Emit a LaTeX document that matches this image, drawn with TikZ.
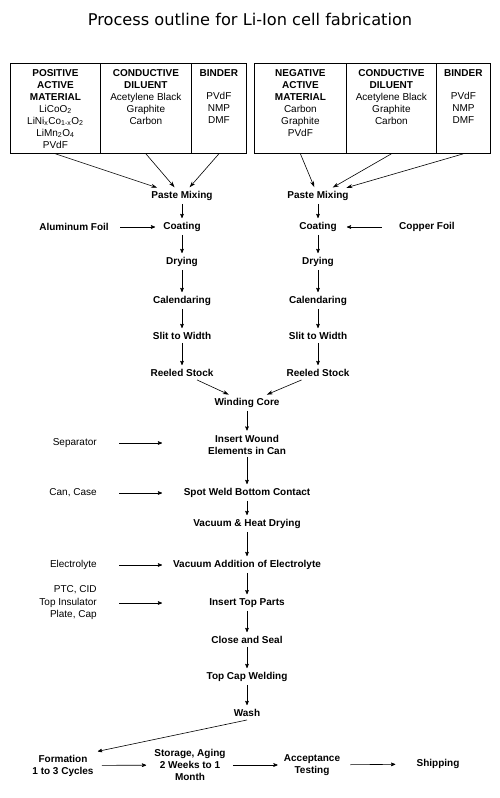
\documentclass[tikz,border=0pt]{standalone}
\usepackage{fontspec}
\setmainfont{Liberation Sans}
\newfontfamily\titlefont{DejaVu Sans}
\usepackage{tikz}
\usetikzlibrary{arrows,arrows.meta,positioning}

\begin{document}
\begin{tikzpicture}[x=1pt,y=-1pt,-,>=stealth',shorten >=1pt,line width=0.6pt,
  procstep/.style={font=\fontsize{10}{12}\selectfont\bfseries, align=center, inner sep=3pt},
  feed/.style={font=\fontsize{10}{12.5}\selectfont, align=right, anchor=east, inner sep=3pt},
  colbox/.style={draw, line width=0.8pt, minimum height=90pt, inner sep=0pt, anchor=north west},
  coltext/.style={font=\fontsize{10}{12}\selectfont, align=center, inner sep=0pt},
  bigtip/.style={-{Stealth[length=6pt,width=4pt]}}]

\useasboundingbox (0,0) rectangle (500,798);

\node[font=\titlefont\fontsize{16.2}{18}\selectfont] (title) at (250,19) {Process outline for Li-Ion cell fabrication};

% material boxes
\node[colbox, minimum width=90pt] (PA) at (10,63)  {};
\node[colbox, minimum width=91pt] (PC) at (100,63) {};
\node[colbox, minimum width=55pt] (PB) at (191,63) {};
\node[colbox, minimum width=92pt] (NA) at (254,63) {};
\node[colbox, minimum width=90pt] (NC) at (346,63) {};
\node[colbox, minimum width=54pt] (NB) at (436,63) {};

\node[coltext, below=6pt of PA.north] (PAtxt) {\textbf{POSITIVE}\\\textbf{ACTIVE}\\\textbf{MATERIAL}\\LiCoO\textsubscript{2}\\LiNi\textsubscript{x}Co\textsubscript{1-x}O\textsubscript{2}\\LiMn\textsubscript{2}O\textsubscript{4}\\PVdF};
\node[coltext, below=6pt of PC.north] (PCtxt) {\textbf{CONDUCTIVE}\\\textbf{DILUENT}\\Acetylene Black\\Graphite\\Carbon};
\node[coltext, below=6pt of PB.north] (PBtxt) {\textbf{BINDER}\\[11pt]PVdF\\NMP\\DMF};
\node[coltext, below=6pt of NA.north] (NAtxt) {\textbf{NEGATIVE}\\\textbf{ACTIVE}\\\textbf{MATERIAL}\\Carbon\\Graphite\\PVdF};
\node[coltext, below=6pt of NC.north] (NCtxt) {\textbf{CONDUCTIVE}\\\textbf{DILUENT}\\Acetylene Black\\Graphite\\Carbon};
\node[coltext, below=6pt of NB.north] (NBtxt) {\textbf{BINDER}\\[11pt]PVdF\\NMP\\DMF};

% electrode lines
\node[procstep] (PML)    at (182,196) {Paste Mixing};
\node[procstep] (PMR)    at (318,196) {Paste Mixing};
\node[procstep] (AlFoil) at (74,227)  {Aluminum Foil};
\node[procstep] (CoatL)  at (182,227) {Coating};
\node[procstep] (CoatR)  at (318,227) {Coating};
\node[procstep] (CuFoil) at (427,227) {Copper Foil};
\node[procstep] (DryL)   at (182,262) {Drying};
\node[procstep] (DryR)   at (318,262) {Drying};
\node[procstep] (CalL)   at (182,301) {Calendaring};
\node[procstep] (CalR)   at (318,301) {Calendaring};
\node[procstep] (SlitL)  at (182,336) {Slit to Width};
\node[procstep] (SlitR)  at (318,336) {Slit to Width};
\node[procstep] (ReelL)  at (182,373) {Reeled Stock};
\node[procstep] (ReelR)  at (318,373) {Reeled Stock};

% cell assembly
\node[procstep] (Wind)     at (247,403)   {Winding Core};
\node[procstep] (Insert)   at (247,444.5) {Insert Wound\\Elements in Can};
\node[procstep] (Spot)     at (247,493)   {Spot Weld Bottom Contact};
\node[procstep] (VacDry)   at (247,524)   {Vacuum \& Heat Drying};
\node[procstep] (VacEl)    at (247,565)   {Vacuum Addition of Electrolyte};
\node[procstep] (TopParts) at (247,603)   {Insert Top Parts};
\node[procstep] (Close)    at (247,640)   {Close and Seal};
\node[procstep] (TopCap)   at (247,677)   {Top Cap Welding};
\node[procstep] (Wash)     at (247,713)   {Wash};

\node[procstep] (Form)   at (63,765.5) {Formation\\1 to 3 Cycles};
\node[procstep] (Store)  at (190,765)  {Storage, Aging\\2 Weeks to 1\\Month};
\node[procstep] (Accept) at (312,765)  {Acceptance\\Testing};
\node[procstep] (Ship)   at (438,764)  {Shipping};

% parts fed in
\node[feed] (Sep)   at (100,443) {Separator};
\node[feed] (Can)   at (100,493) {Can, Case};
\node[feed] (Elec)  at (100,565) {Electrolyte};
\node[feed] (Parts) at (100,603) {PTC, CID\\Top Insulator\\Plate, Cap};

\coordinate (sepin)   at (163,443);
\coordinate (canin)   at (163,493);
\coordinate (elecin)  at (163,565);
\coordinate (partsin) at (163,603);

\path (PA.south) edge[bigtip] (PML)
      (PC.south) edge[bigtip] (PML)
      (PB.south) edge[bigtip] (PML)
      (NA.south) edge[bigtip] (PMR)
      (NC.south) edge[bigtip] (PMR)
      (NB.south) edge[bigtip] (PMR);

\path (PML)   edge[->] (CoatL)
      (CoatL) edge[->] (DryL)
      (DryL)  edge[->] (CalL)
      (CalL)  edge[->] (SlitL)
      (SlitL) edge[->] (ReelL)
      (PMR)   edge[->] (CoatR)
      (CoatR) edge[->] (DryR)
      (DryR)  edge[->] (CalR)
      (CalR)  edge[->] (SlitR)
      (SlitR) edge[->] (ReelR);

\path (AlFoil) edge[->, shorten <=8pt, shorten >=5pt] (CoatL)
      (CuFoil) edge[->, shorten <=14pt, shorten >=7pt] (CoatR);

\path (ReelL) edge[bigtip] (Wind)
      (ReelR) edge[bigtip] (Wind);

\path (Wind)     edge[->] (Insert)
      (Insert)   edge[->] (Spot)
      (Spot)     edge[->] (VacDry)
      (VacDry)   edge[->] (VacEl)
      (VacEl)    edge[->] (TopParts)
      (TopParts) edge[->] (Close)
      (Close)    edge[->] (TopCap)
      (TopCap)   edge[->] (Wash);

\path (Sep)   edge[->, shorten <=19pt] (sepin)
      (Can)   edge[->, shorten <=19pt] (canin)
      (Elec)  edge[->, shorten <=19pt] (elecin)
      (Parts) edge[->, shorten <=19pt] (partsin);

\path (Wash.south) edge[->] (Form.north east)
      (Form)   edge[->, shorten <=5pt, shorten >=5pt] (Store)
      (Store)  edge[->, shorten <=4pt, shorten >=3pt] (Accept)
      (Accept) edge[->, shorten <=7pt, shorten >=18pt] (Ship);

\end{tikzpicture}
\end{document}
